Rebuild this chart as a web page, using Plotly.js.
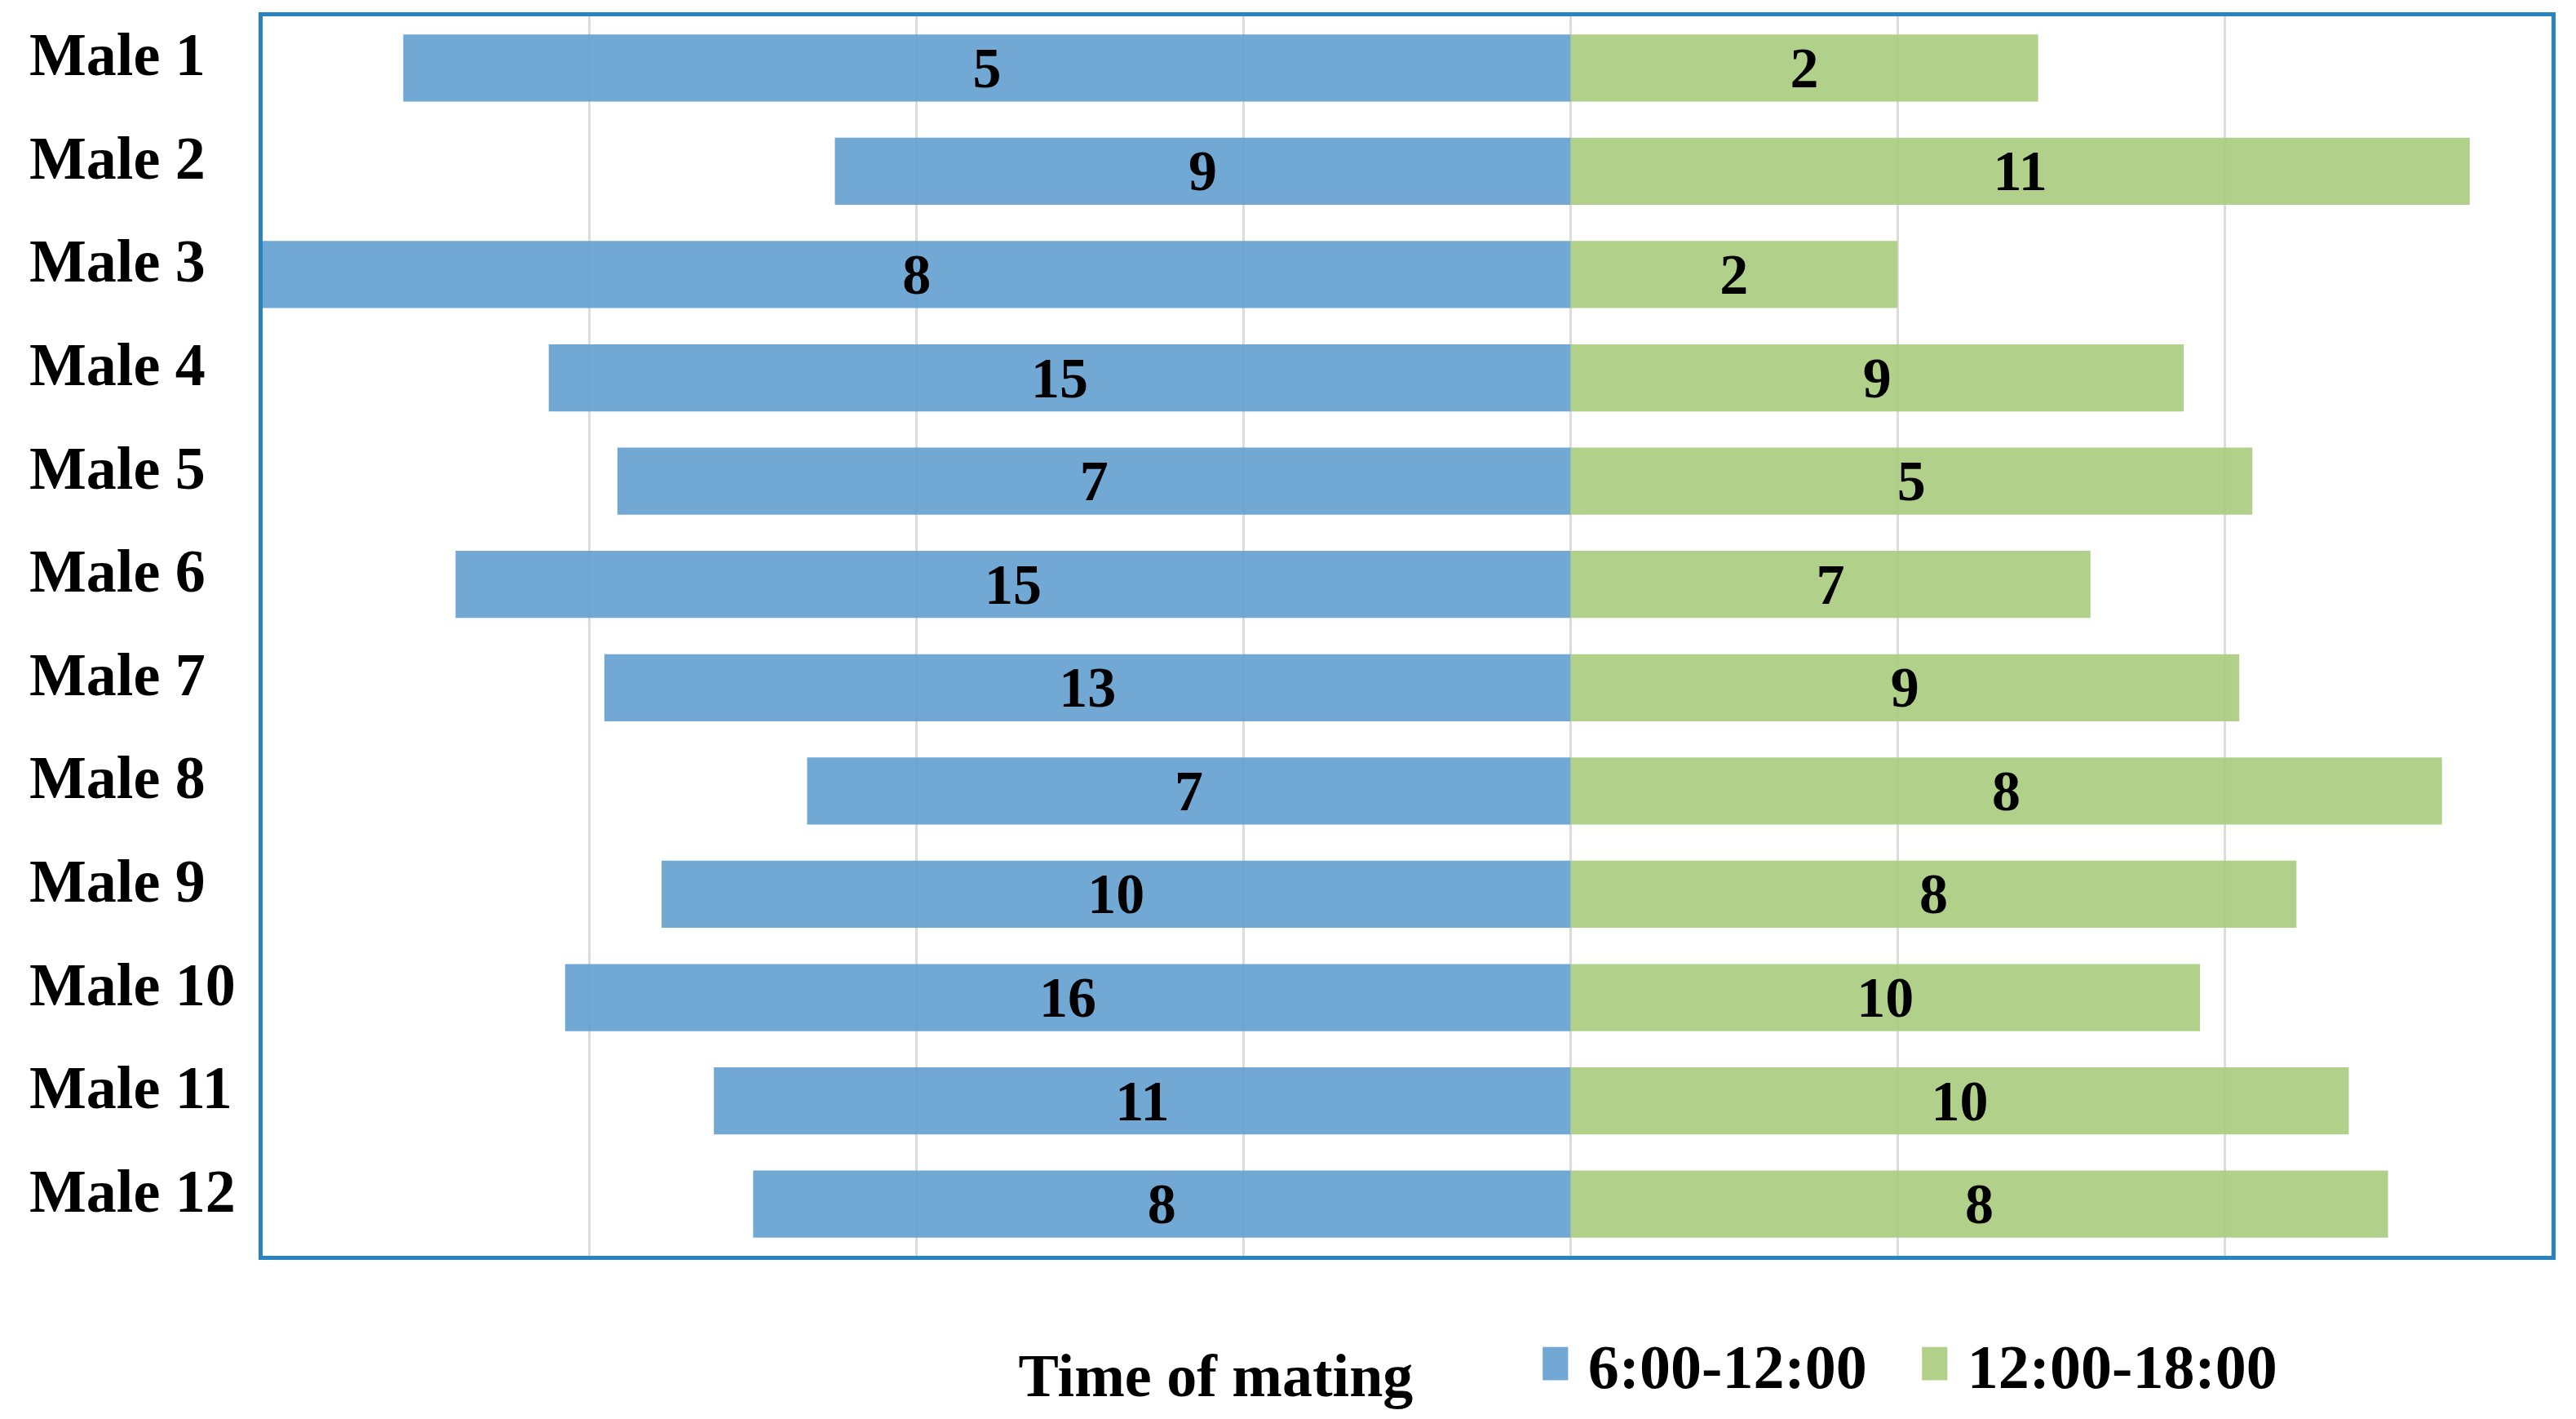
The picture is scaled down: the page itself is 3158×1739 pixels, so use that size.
<!DOCTYPE html>
<html>
<head>
<meta charset="utf-8">
<script src="https://cdn.plot.ly/plotly-3.0.1.min.js"></script>
<style>
  html, body { margin: 0; padding: 0; background: #fff; }
  #chart { width: 3158px; height: 1739px; }
  .legend .legendpoints path { transform: scale(2.6, 3.4); }
</style>
</head>
<body>
<div id="chart"></div>
<script>
// Categories (top to bottom)
const males = ["Male 1","Male 2","Male 3","Male 4","Male 5","Male 6","Male 7","Male 8","Male 9","Male 10","Male 11","Male 12"];
// Number of matings (bar labels)
const count6to12  = [5, 9, 8, 15, 7, 15, 13, 7, 10, 16, 11, 8];
const count12to18 = [2, 11, 2, 9, 5, 7, 9, 8, 8, 10, 10, 8];
// Share of matings in % (bar lengths)
const share6to12  = [71.4, 45.0, 80.0, 62.5, 58.3, 68.2, 59.1, 46.7, 55.6, 61.5, 52.4, 50.0];
const share12to18 = [28.6, 55.0, 20.0, 37.5, 41.7, 31.8, 40.9, 53.3, 44.4, 38.5, 47.6, 50.0];
const seriesNames = ["6:00-12:00", "12:00-18:00"];
const legendTitle = "Time of mating";

const FONT = "Liberation Serif, Times New Roman, serif";

const traces = [
  {
    type: "bar", orientation: "h", name: seriesNames[0],
    y: males, x: share6to12.map(v => -v),
    text: count6to12, texttemplate: "<b>%{text}</b>",
    textposition: "inside", insidetextanchor: "middle", constraintext: "none", textangle: 0,
    textfont: { family: FONT, size: 70, color: "#000" },
    marker: { color: "rgba(98,158,207,0.9)", line: { width: 0 } },
    hoverinfo: "skip"
  },
  {
    type: "bar", orientation: "h", name: seriesNames[1],
    y: males, x: share12to18,
    text: count12to18, texttemplate: "<b>%{text}</b>",
    textposition: "inside", insidetextanchor: "middle", constraintext: "none", textangle: 0,
    textfont: { family: FONT, size: 70, color: "#000" },
    marker: { color: "rgba(169,204,125,0.9)", line: { width: 0 } },
    hoverinfo: "skip"
  }
];

const annotations = males.map(m => ({
  xref: "paper", yref: "y", x: -0.1026, y: m, xanchor: "left", yanchor: "middle",
  yshift: 16, showarrow: false,
  text: "<b>" + m + "</b>",
  font: { family: FONT, size: 74, color: "#000" }
}));

const nb = "\u00A0";
const layout = {
  width: 3158, height: 1739,
  margin: { l: 322, r: 30, t: 20, b: 194 },
  paper_bgcolor: "#fff", plot_bgcolor: "#fff",
  barmode: "relative", bargap: 0.35,
  showlegend: true,
  legend: {
    orientation: "h", x: 0.3295, xanchor: "left", y: -0.087, yanchor: "middle",
    title: { text: "<b>" + legendTitle + "</b>" + nb.repeat(9), side: "left",
             font: { family: FONT, size: 74, color: "#000" } },
    font: { family: FONT, size: 76, color: "#000", weight: "bold" },
    entrywidth: 420, entrywidthmode: "pixels",
    traceorder: "normal", itemclick: false, itemdoubleclick: false,
    bgcolor: "rgba(0,0,0,0)"
  },
  xaxis: {
    range: [-80, 60], dtick: 20, tick0: 0,
    showticklabels: false, ticks: "",
    showgrid: true, gridcolor: "#dcdcdc", gridwidth: 3,
    zeroline: false,
    showline: true, mirror: true, linecolor: "#2a84c2", linewidth: 5
  },
  yaxis: {
    autorange: "reversed", type: "category",
    showticklabels: false, ticks: "", showgrid: false, zeroline: false,
    showline: true, mirror: true, linecolor: "#2a84c2", linewidth: 5
  },
  annotations: annotations,
  font: { family: FONT, color: "#000" }
};

Plotly.newPlot("chart", traces, layout, { staticPlot: true, displayModeBar: false });
</script>
</body>
</html>
